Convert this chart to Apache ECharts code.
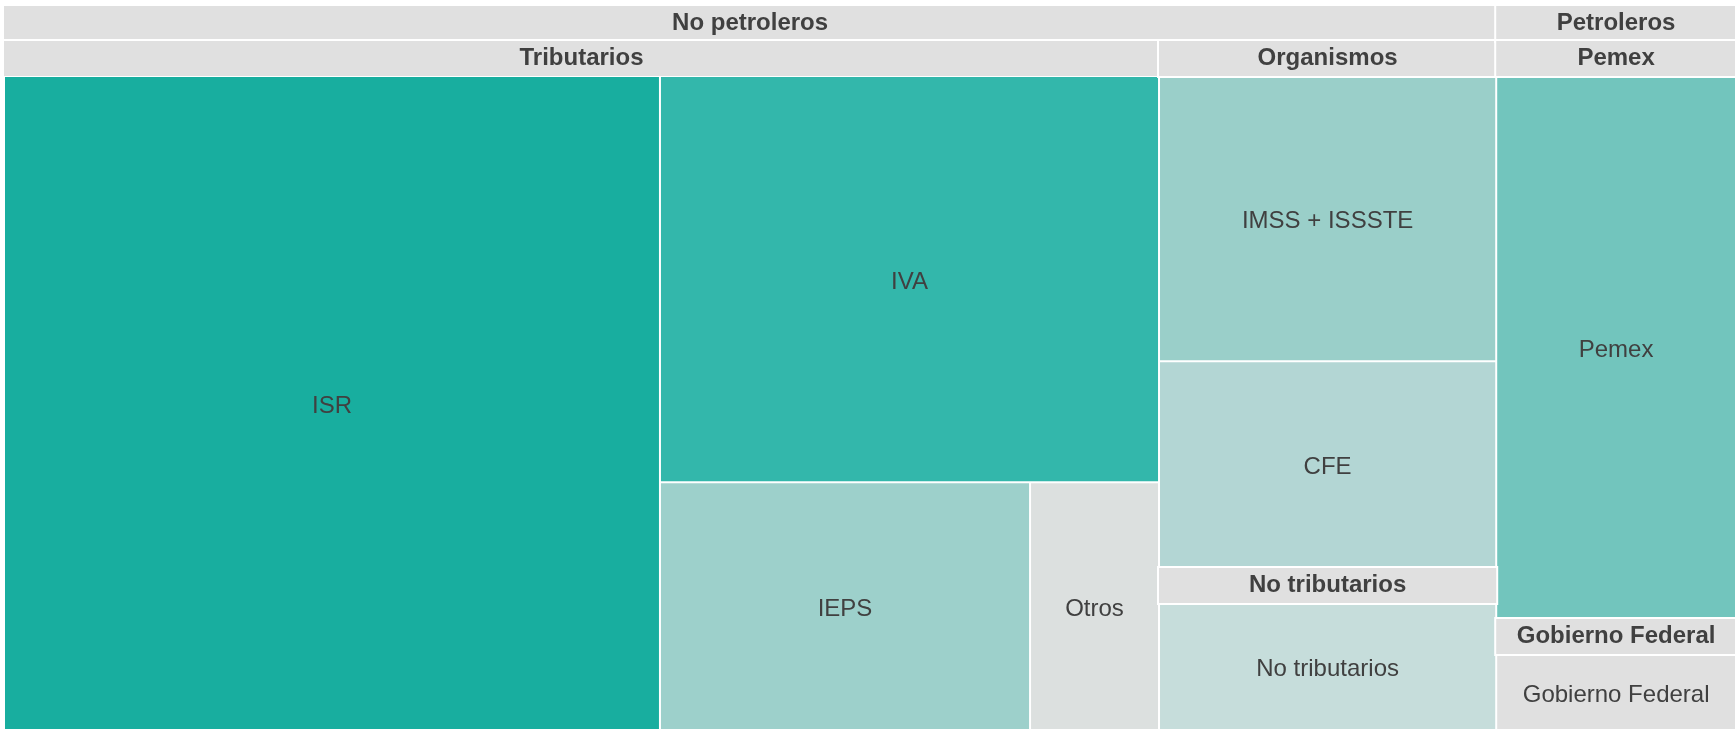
<!DOCTYPE html>
<html>
<head>
<meta charset="utf-8">
<script src="https://cdn.jsdelivr.net/npm/echarts@6/dist/echarts.min.js"></script>
<style>
  html, body { margin: 0; padding: 0; background: #ffffff; }
  #chart { width: 1735px; height: 730px; }
</style>
</head>
<body>
<div id="chart"></div>
<script>
// ---- Data ----
const groupNames = ['No petroleros', 'Petroleros'];
const subgroupNames = ['Tributarios', 'Organismos', 'No tributarios', 'Pemex', 'Gobierno Federal'];
const subgroupParent = ['No petroleros', 'No petroleros', 'No petroleros', 'Petroleros', 'Petroleros'];
const leafNames = ['ISR', 'IVA', 'IEPS', 'Otros', 'IMSS + ISSSTE', 'CFE', 'No tributarios', 'Pemex', 'Gobierno Federal'];
const leafParent = ['Tributarios', 'Tributarios', 'Tributarios', 'Tributarios', 'Organismos', 'Organismos', 'No tributarios', 'Pemex', 'Gobierno Federal'];
const leafValues = [1852, 875, 396, 138, 422, 306, 224, 568, 109];

// ---- Styles ----
const leafColors = ['#18ae9f', '#33b7ab', '#9dd0cb', '#dce0df', '#9acfc9', '#b3d6d4', '#c6dddb', '#72c5bd', '#e0e0e0'];
const textColor = '#404040';
const fontFamily = '"Liberation Sans", Arial, Helvetica, sans-serif';
const headerGray = '#e0e0e0';

// ---- Build tree from arrays ----
const tree = groupNames.map(g => ({
  name: g,
  children: subgroupNames
    .map((s, i) => ({ s, i }))
    .filter(o => subgroupParent[o.i] === g)
    .map(o => ({
      name: o.s,
      children: leafNames
        .map((l, j) => ({ l, j }))
        .filter(p => leafParent[p.j] === o.s)
        .map(p => ({
          name: p.l,
          value: leafValues[p.j],
          itemStyle: { color: leafColors[p.j] }
        }))
    }))
}));

const upper = {
  show: true,
  height: 35,
  position: 'inside',
  align: 'center',
  verticalAlign: 'middle',
  color: textColor,
  fontSize: 24,
  fontWeight: 'bold',
  fontFamily: fontFamily,
  backgroundColor: headerGray,
  borderColor: '#ffffff',
  borderWidth: 2,
  padding: 0
};

const chart = echarts.init(document.getElementById('chart'), null, { renderer: 'canvas' });
chart.setOption({
  animation: false,
  tooltip: { show: false },
  series: [{
    type: 'treemap',
    left: 4,
    top: 6,
    width: 1732,
    height: 724,
    roam: false,
    nodeClick: false,
    breadcrumb: { show: false },
    emphasis: { disabled: true },
    label: {
      show: true,
      position: 'inside',
      offset: [0, 3],
      color: textColor,
      fontSize: 24,
      fontFamily: fontFamily,
      padding: 0
    },
    levels: [
      {
        itemStyle: { borderWidth: 0, gapWidth: 0, borderColor: '#ffffff' },
        upperLabel: { show: false }
      },
      {
        itemStyle: { borderWidth: 0, gapWidth: 0, borderColor: '#ffffff' },
        upperLabel: upper
      },
      {
        itemStyle: { borderWidth: 0, gapWidth: 0, borderColor: '#ffffff' },
        upperLabel: upper
      },
      {
        itemStyle: { borderWidth: 1, gapWidth: 0, borderColor: '#ffffff' }
      }
    ],
    data: tree
  }]
});
</script>
</body>
</html>
